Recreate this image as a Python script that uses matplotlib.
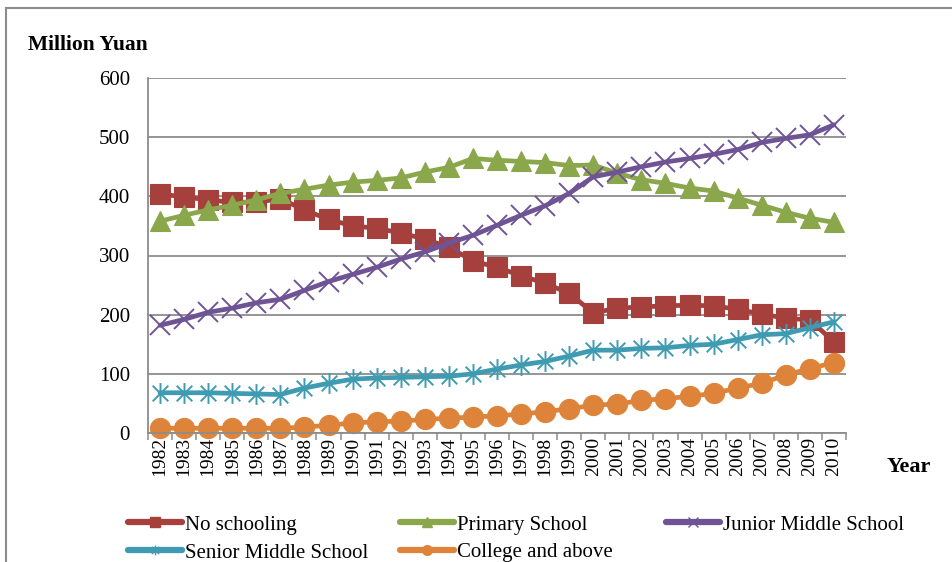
import matplotlib
matplotlib.use("Agg")
import matplotlib.pyplot as plt
import numpy as np
from matplotlib.path import Path
from matplotlib.lines import Line2D

plt.rcParams['font.family'] = ['Liberation Serif', 'DejaVu Serif']

years = list(range(1982, 2011))
series_names = ["No schooling", "Primary School", "Junior Middle School",
                "Senior Middle School", "College and above"]

no_schooling = [404, 399, 394, 390, 390, 396, 377, 361, 350, 346, 338, 328, 314, 291, 280,
                266, 253, 236, 203, 211, 213, 215, 216, 215, 209, 201, 194, 191, 154]
primary = [358, 368, 377, 385, 394, 405, 412, 419, 424, 427, 431, 441, 449, 464, 461,
           459, 457, 452, 453, 439, 428, 422, 414, 409, 397, 385, 373, 363, 356]
junior = [182, 192, 204, 211, 220, 226, 241, 256, 268, 280, 294, 306, 321, 334, 351,
          368, 384, 405, 433, 441, 450, 458, 464, 471, 479, 491, 498, 504, 521]
senior = [68, 68, 68, 67, 66, 65, 76, 84, 91, 93, 94, 95, 96, 100, 108,
          115, 121, 130, 140, 140, 143, 144, 148, 150, 158, 166, 168, 178, 188]
college = [8, 8, 8, 8, 8, 8, 10, 13, 17, 19, 20, 23, 25, 27, 29,
           32, 36, 41, 47, 49, 55, 58, 62, 67, 76, 84, 98, 109, 119]

y_ticks = [0, 100, 200, 300, 400, 500, 600]

colors = ['#A6403D', '#8AA74B', '#6F5495', '#3E9BB1', '#DE843A']

# Excel-style "star" marker: an X crossed by a vertical bar
star_path = Path(
    [(0, -1), (0, 1), (-0.75, -0.75), (0.75, 0.75), (-0.75, 0.75), (0.75, -0.75)],
    [Path.MOVETO, Path.LINETO, Path.MOVETO, Path.LINETO, Path.MOVETO, Path.LINETO])

styles = [
    dict(marker='s', markersize=14.5, mew=0.8),
    dict(marker='^', markersize=15, mew=0.8),
    dict(marker='x', markersize=14, mew=1.4),
    dict(marker=star_path, markersize=15, mew=1.4),
    dict(marker='o', markersize=14.5, mew=0.8),
]

fig = plt.figure(figsize=(9.52, 5.62), dpi=100)
ax = fig.add_axes([148 / 952, 1 - 433 / 562, 698 / 952, 355 / 562])

x = np.arange(len(years))
data = [no_schooling, primary, junior, senior, college]
for vals, name, c, st in zip(data, series_names, colors, styles):
    ax.plot(x, vals, color=c, lw=3.4, mec=c, mfc=c, label=name,
            clip_on=False, solid_capstyle='round', **st)

ax.set_xlim(-0.5, len(years) - 0.5)
ax.set_ylim(0, 600)
ax.set_yticks(y_ticks)
ax.set_yticklabels([str(v) for v in y_ticks], fontsize=15)
ax.set_xticks(x)
ax.set_xticklabels([str(y) for y in years], rotation=90, fontsize=14)
ax.set_xticks(np.arange(-0.5, len(years), 1.0), minor=True)
ax.tick_params(axis='x', which='major', length=0, pad=3)
ax.tick_params(axis='x', which='minor', length=5, width=1.1, color='#8C8C8C', direction='out')
ax.tick_params(axis='y', length=0, pad=13)

ax.grid(axis='y', color='#8C8C8C', lw=1.3)
ax.set_axisbelow(True)
for s in ['top', 'right']:
    ax.spines[s].set_visible(False)
for s in ['left', 'bottom']:
    ax.spines[s].set_color('#8C8C8C')
    ax.spines[s].set_linewidth(1.3)

fig.text(28 / 952, 1 - 45 / 562, "Million Yuan", fontsize=15.5, fontweight='bold',
         ha='left', va='center')
fig.text(909 / 952, 1 - 467 / 562, "Year", fontsize=16, fontweight='bold',
         ha='center', va='center')

# outer chart frame
fig.add_artist(Line2D([6 / 952, 1], [1 - 8 / 562, 1 - 8 / 562], color='#8C8C8C', lw=1.5))
fig.add_artist(Line2D([6 / 952, 6 / 952], [0, 1 - 8 / 562], color='#8C8C8C', lw=1.5))

# legend, laid out in fixed-width columns
proxy = []
for name, c, st in zip(series_names, colors, styles):
    s = dict(st)
    s['markersize'] = 7
    s['mew'] = 1.0
    proxy.append(Line2D([], [], color=c, lw=4.5, mec=c, mfc=c, solid_capstyle='round', **s))

columns = [([0, 3], 128), ([1, 4], 400), ([2], 666)]
for idx, xpix in columns:
    fig.legend([proxy[i] for i in idx], [series_names[i] for i in idx],
               loc='upper left', bbox_to_anchor=(xpix / 952, 1 - 515 / 562),
               frameon=False, fontsize=15, handlelength=2.6, handletextpad=0.15,
               borderpad=0, borderaxespad=0, labelspacing=0.4)

fig.savefig("out.png", dpi=100)
